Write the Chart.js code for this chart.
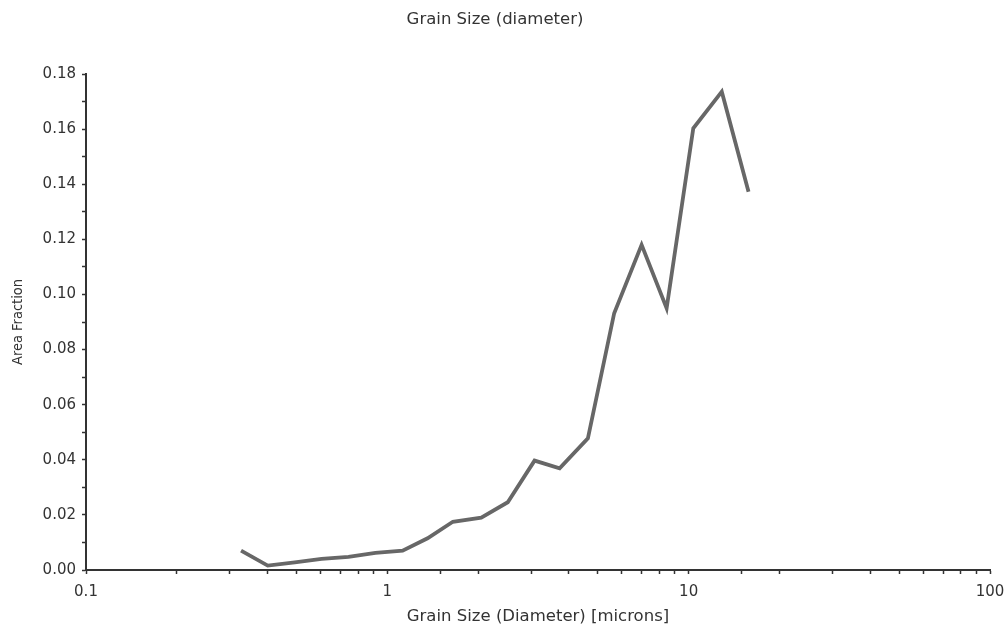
<!DOCTYPE html>
<html>
<head>
<meta charset="utf-8">
<script src="https://cdn.jsdelivr.net/npm/chart.js@4"></script>
<style>
  html, body { margin: 0; padding: 0; background: #fff; }
  #grain { display: block; }
</style>
</head>
<body>
<canvas id="grain" width="1006" height="628"></canvas>
<script>
// grain size bins (microns) and area fraction
const grainSize = [0.327, 0.401, 0.493, 0.605, 0.743, 0.913, 1.124, 1.36, 1.65, 2.05, 2.51,
  3.08, 3.73, 4.63, 5.66, 6.98, 8.45, 10.36, 12.88, 15.8];
const areaFraction = [0.0070, 0.0016, 0.0028, 0.0040, 0.0048, 0.0062, 0.0070, 0.0115, 0.0175, 0.0190, 0.0246,
  0.0397, 0.0369, 0.0478, 0.0932, 0.1180, 0.0950, 0.1603, 0.1736, 0.1373];
const xTickLabels = ['0.1', '1', '10', '100'];
const yTickLabels = ['0.00', '0.02', '0.04', '0.06', '0.08', '0.10', '0.12', '0.14', '0.16', '0.18'];

const ctx = document.getElementById('grain');
const points = grainSize.map((g, i) => ({ x: g, y: areaFraction[i] }));
const face = 'DejaVu Sans, Arial, sans-serif';

new Chart(ctx, {
  type: 'line',
  data: {
    datasets: [{
      label: 'Area Fraction',
      data: points,
      borderColor: '#676767',
      borderWidth: 3.8,
      pointRadius: 0,
      tension: 0,
      fill: false
    }]
  },
  options: {
    responsive: false,
    animation: false,
    layout: { padding: { left: 0, right: 16, top: 0, bottom: 0 } },
    plugins: {
      legend: { display: false },
      tooltip: { enabled: false },
      title: {
        display: true,
        text: 'Grain Size (diameter)',
        color: '#333',
        font: { family: face, size: 16.5, weight: 'normal' },
        padding: { top: 10, bottom: 44.2 }
      }
    },
    scales: {
      x: {
        type: 'logarithmic',
        min: 0.1,
        max: 100,
        afterFit: s => { s.height = 58; s.paddingLeft = 0; s.paddingRight = 0; },
        border: { color: '#333', width: 2 },
        grid: { drawOnChartArea: false, color: '#333', tickLength: 4, tickWidth: 1.5 },
        ticks: {
          color: '#333',
          padding: 9,
          maxRotation: 0,
          autoSkip: false,
          font: { family: face, size: 15 },
          callback: function (v) {
            const k = Math.round(Math.log10(v)) + 1;
            return Math.abs(Math.log10(v) - Math.round(Math.log10(v))) < 1e-6 ? xTickLabels[k] : '';
          }
        },
        title: {
          display: true,
          text: 'Grain Size (Diameter) [microns]',
          color: '#333',
          font: { family: face, size: 16.5 },
          padding: { top: 0, bottom: 1.5 }
        }
      },
      y: {
        min: 0,
        max: 0.18,
        afterFit: s => { s.width = 86; },
        border: { color: '#333', width: 2 },
        grid: { drawOnChartArea: false, color: '#333', tickLength: 4, tickWidth: 1.5 },
        ticks: {
          stepSize: 0.01,
          color: '#333',
          padding: 6,
          autoSkip: false,
          font: { family: face, size: 15 },
          callback: (v, i) => (i % 2 === 0 ? yTickLabels[i / 2] : '')
        },
        title: {
          display: true,
          text: 'Area Fraction',
          color: '#333',
          font: { family: 'DejaVu Sans Condensed, Liberation Sans, sans-serif', size: 14.5 },
          padding: { top: 10, bottom: 0 }
        }
      }
    }
  }
});
</script>
</body>
</html>
